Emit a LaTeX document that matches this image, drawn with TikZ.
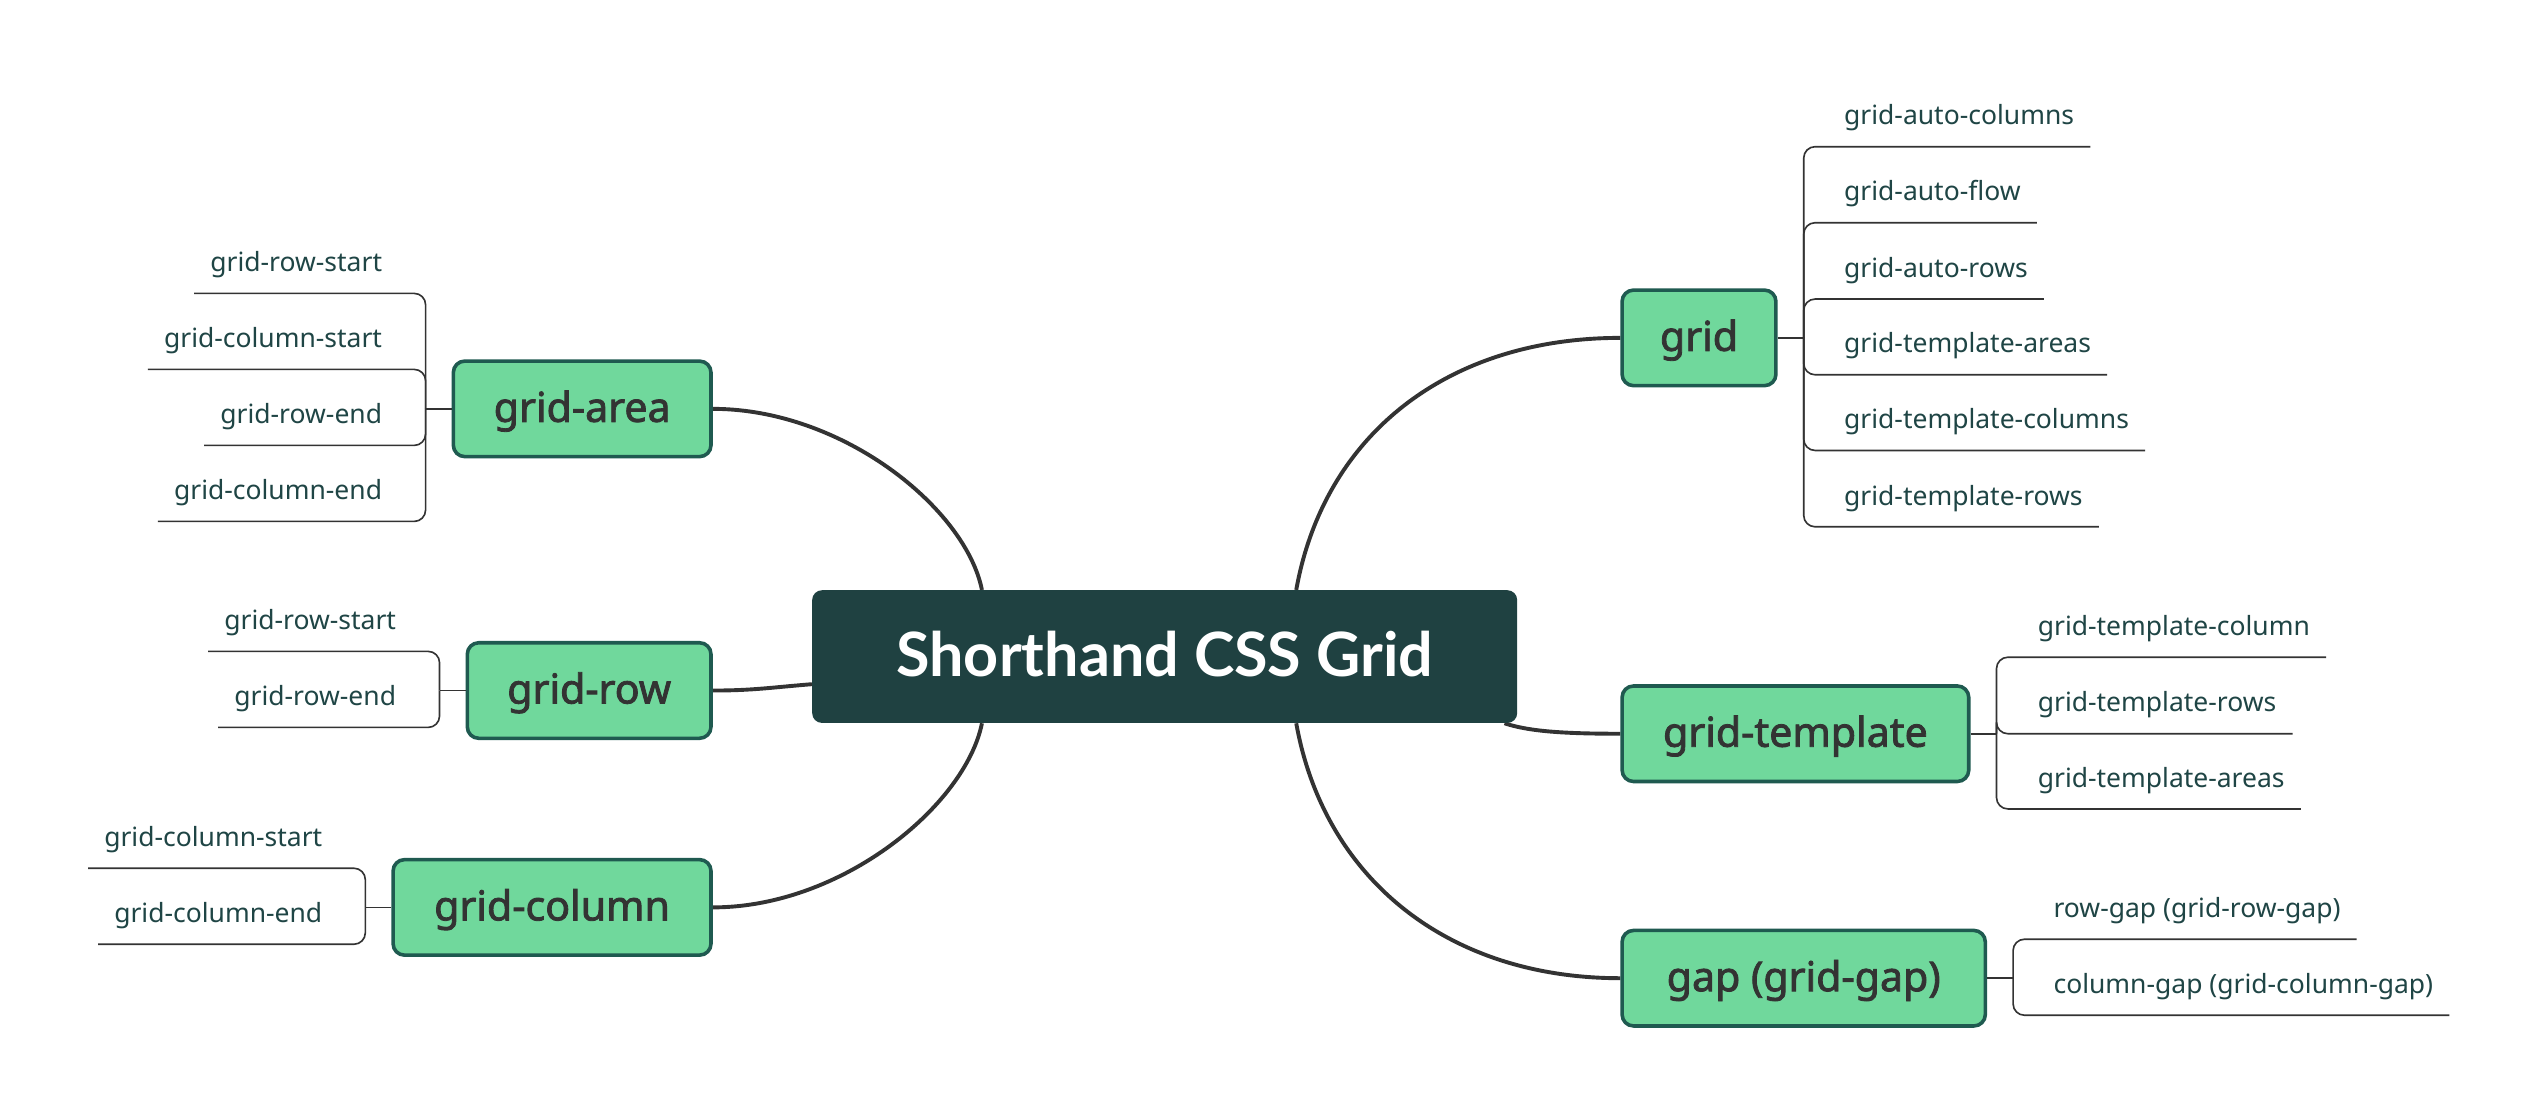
\documentclass[tikz,border=0pt]{standalone}
\usepackage{fontspec}
\setmainfont{Noto Sans}
\newfontfamily\nodefont[FakeBold=2]{Noto Sans}
\newfontfamily\rootfont{Lato}
\usetikzlibrary{calc,backgrounds}
\definecolor{rootfill}{HTML}{1F4141}
\definecolor{nodefill}{HTML}{70D89C}
\definecolor{nodeborder}{HTML}{1F5A50}
\definecolor{linecol}{HTML}{333333}
\definecolor{leaftext}{HTML}{1F4545}
\definecolor{nodetext}{HTML}{333333}
\begin{document}
\begin{tikzpicture}[x=1pt,y=-1pt,
 rootbox/.style={fill=rootfill, rounded corners=6pt, minimum width=434pt, minimum height=81.7pt, inner sep=0pt, text=white, font=\rootfont\bfseries\fontsize{37.6}{42}\selectfont, text height=26pt, text depth=2pt},
 topic/.style={draw=nodeborder, line width=2.2pt, fill=nodefill, rounded corners=7pt, minimum height=58.8pt, inner sep=0pt, text=nodetext, font=\nodefont\fontsize{25.3}{30}\selectfont, text height=18pt, text depth=2pt},
 leafR/.style={anchor=south west, inner xsep=10pt, inner ysep=13.4pt, text depth=0pt, text=leaftext, font=\fontsize{16.3}{20}\selectfont, outer sep=0pt},
 leafL/.style={leafR, anchor=south east},
 trunk/.style={draw=linecol, line width=2.4pt},
 twig/.style={draw=linecol, line width=1pt, rounded corners=7pt},
]
\useasboundingbox (0,0) rectangle (1568,686.4);

% central and main topics
\node[rootbox] (root) at (717,404.2) {Shorthand CSS Grid};
\node[topic, minimum width=94.7pt, anchor=west] (grid) at (997.5,208) {grid};
\node[topic, minimum width=213.4pt, anchor=west] (tmpl) at (997.5,451.7) {grid-template};
\node[topic, minimum width=223.6pt, anchor=west] (gap) at (997.5,602.2) {gap (grid-gap)};
\node[topic, minimum width=158.6pt, anchor=east] (area) at (438.8,251.7) {grid-area};
\node[topic, minimum width=150pt, anchor=east] (row) at (438.8,425.1) {grid-row};
\node[topic, minimum width=195.7pt, anchor=east] (col) at (438.8,558.6) {grid-column};

\begin{scope}[on background layer]
\fill[white] (0,0) rectangle (1568,686.4);
\draw[trunk] ([xshift=81pt]root.north) .. controls +(17,-95) and +(-107,0) .. (grid.west);
\draw[trunk] ([xshift=81pt]root.south) .. controls +(17,95) and +(-107,0) .. (gap.west);
\draw[trunk] ([xshift=-112.5pt]root.north) .. controls +(-10,-50) and +(80,0) .. (area.east);
\draw[trunk] ([xshift=-112.5pt]root.south) .. controls +(-10,50) and +(80,0) .. (col.east);
\draw[trunk] ([xshift=-8pt]root.south east) .. controls +(15,5) and +(-35,0) .. (tmpl.west);
\draw[trunk] ([yshift=-17pt]root.west) .. controls +(-25,2) and +(25,0) .. (row.east);
\end{scope}

% junctions
\coordinate (gridJ) at ([xshift=16pt]grid.east);
\coordinate (tmplJ) at ([xshift=16pt]tmpl.east);
\coordinate (gapJ) at ([xshift=16pt]gap.east);
\coordinate (areaJ) at ([xshift=-16pt]area.west);
\coordinate (rowJ) at ([xshift=-16pt]row.west);
\coordinate (colJ) at ([xshift=-16pt]col.west);
\draw[twig] (grid.east) -- (gridJ);
\draw[twig] (tmpl.east) -- (tmplJ);
\draw[twig] (gap.east) -- (gapJ);
\draw[twig] (area.west) -- (areaJ);
\draw[twig] (row.west) -- (rowJ);
\draw[twig] (col.west) -- (colJ);

% grid leaves
\node[leafR] (g1) at (1125.3,90.3) {grid-auto-columns};
\node[leafR] (g2) at (1125.3,137.1) {grid-auto-flow};
\node[leafR] (g3) at (1125.3,184.1) {grid-auto-rows};
\node[leafR] (g4) at (1125.3,230.7) {grid-template-areas};
\node[leafR] (g5) at (1125.3,277.3) {grid-template-columns};
\node[leafR] (g6) at (1125.3,324.3) {grid-template-rows};
\foreach \n in {g1,g2,g3,g4,g5,g6} \draw[twig] (gridJ) |- (\n.south east);

% grid-template leaves
\node[leafR] (t1) at (1244.5,404.6) {grid-template-column};
\node[leafR] (t2) at (1244.5,451.7) {grid-template-rows};
\node[leafR] (t3) at (1244.5,498) {grid-template-areas};
\foreach \n in {t1,t2,t3} \draw[twig] (tmplJ) |- (\n.south east);

% gap leaves
\node[leafR] (p1) at (1254.2,578.2) {row-gap (grid-row-gap)};
\node[leafR] (p2) at (1254.2,625) {column-gap (grid-column-gap)};
\foreach \n in {p1,p2} \draw[twig] (gapJ) |- (\n.south east);

% grid-area leaves
\node[leafL] (a1) at (245.2,180.6) {grid-row-start};
\node[leafL] (a2) at (245.2,227.4) {grid-column-start};
\node[leafL] (a3) at (245.2,274.2) {grid-row-end};
\node[leafL] (a4) at (245.2,321) {grid-column-end};
\foreach \n in {a1,a2,a3,a4} \draw[twig] (areaJ) |- (\n.south west);

% grid-row leaves
\node[leafL] (r1) at (253.8,401) {grid-row-start};
\node[leafL] (r2) at (253.8,447.8) {grid-row-end};
\foreach \n in {r1,r2} \draw[twig] (rowJ) |- (\n.south west);

% grid-column leaves
\node[leafL] (c1) at (208.4,534.5) {grid-column-start};
\node[leafL] (c2) at (208.4,581.3) {grid-column-end};
\foreach \n in {c1,c2} \draw[twig] (colJ) |- (\n.south west);
\end{tikzpicture}
\end{document}
